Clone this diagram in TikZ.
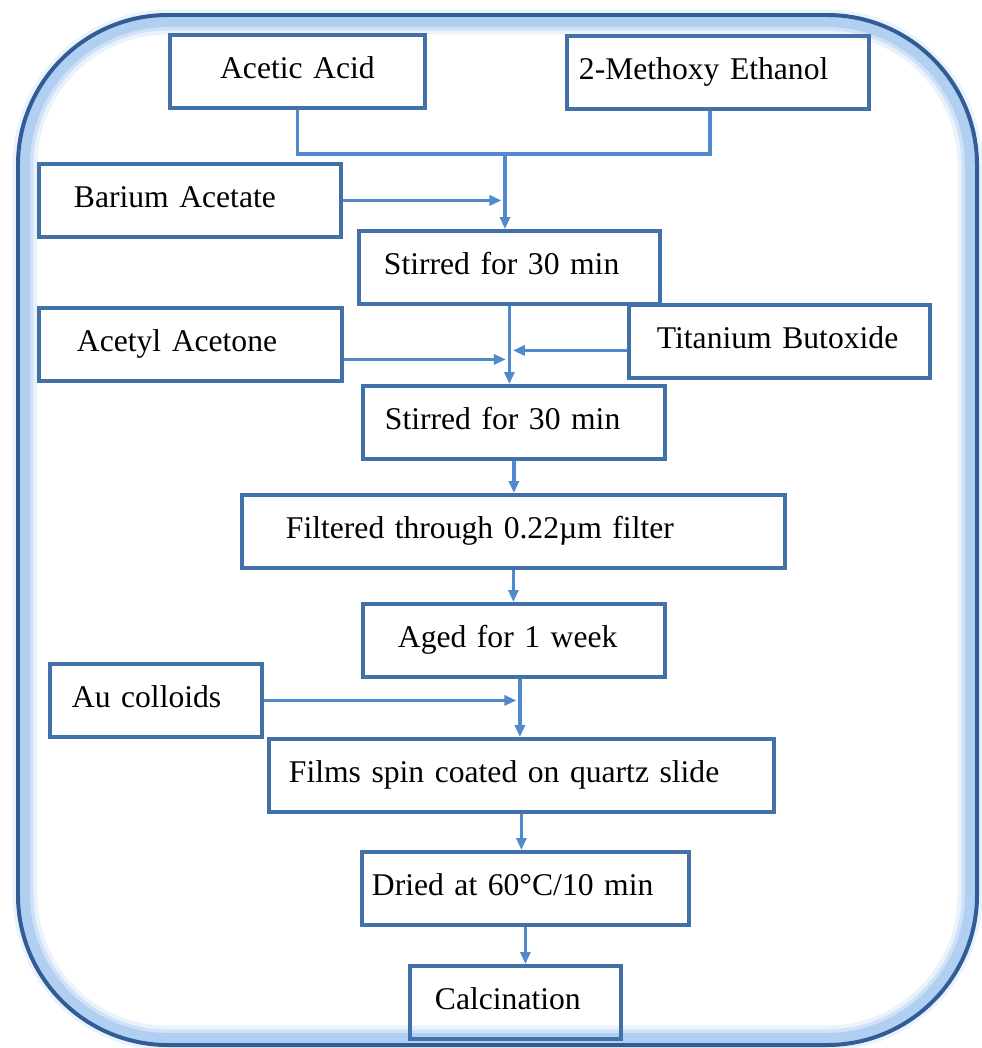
\documentclass[tikz,border=0pt]{standalone}
\usepackage{fontspec}
\setmainfont{Liberation Serif}
\usepackage{xcolor}
\usetikzlibrary{arrows.meta}
\definecolor{boxblue}{RGB}{66,112,168}
\definecolor{linkblue}{RGB}{80,137,204}
\definecolor{framedark}{RGB}{50,92,150}
\definecolor{glowblue}{RGB}{140,185,235}

\begin{document}
\begin{tikzpicture}[x=0.02cm, y=-0.02cm, >={Triangle[length=0.24cm,width=0.2cm]}]

        \tikzset{box/.style 2 args={draw=boxblue, line width=2.2pt, anchor=north west,
                 text width=#1, inner xsep=#2, inner ysep=0pt, minimum height=1.46cm,
                 align=left, font=\fontsize{18}{22}\selectfont,
                 text height=12.6pt, text depth=4pt}}
        \tikzset{link/.style={draw=linkblue, line width=2.1pt}}

        \useasboundingbox (0,0) rectangle (981,1048);

        % outer frame with glow
        \foreach \w/\o in {0.50/0.18, 0.34/0.3, 0.20/0.45}
            \draw[glowblue, opacity=\o, line width=\w cm, rounded corners=2.86cm] (25,22) rectangle (970,1038);
        \draw[framedark, line width=0.08cm, rounded corners=3cm] (18,15) rectangle (977,1045);

        \node[box={4.30cm}{0.40cm}, align=center] (acetic) at (168,33) {Acetic Acid};
        \node[box={5.56cm}{0.24cm}] (methoxy) at (565,34) {2-Methoxy Ethanol};
        \node[box={4.64cm}{0.70cm}] (barium) at (37,162) {Barium Acetate};
        \node[box={5.02cm}{0.50cm}] (stir1) at (357,229) {Stirred for 30 min};
        \node[box={4.54cm}{0.76cm}] (acetyl) at (37,306) {Acetyl Acetone};
        \node[box={4.90cm}{0.56cm}] (titanium) at (627,303) {Titanium Butoxide};
        \node[box={5.16cm}{0.44cm}] (stir2) at (361,384) {Stirred for 30 min};
        \node[box={9.10cm}{0.88cm}] (filtered) at (240,493) {Filtered through 0.22µm filter};
        \node[box={4.64cm}{0.70cm}] (aged) at (361,602) {Aged for 1 week};
        \node[box={3.36cm}{0.44cm}] (au) at (48,662) {Au colloids};
        \node[box={9.30cm}{0.40cm}] (films) at (267,737) {Films spin coated on quartz slide};
        \node[box={6.14cm}{0.20cm}] (dried) at (360,850) {Dried at 60°C/10 min};
        \node[box={3.22cm}{0.50cm}] (calc) at (408,964) {Calcination};

        \coordinate (mix) at (505,154);
        \coordinate (drop) at ([xshift=0.12cm]aged.south);

        \draw[link] (acetic.south) |- ([xshift=-0.16cm]methoxy.south |- mix) -- ([xshift=-0.16cm]methoxy.south);
        \draw[link,->] (mix) -- (mix |- stir1.north);
        \draw[link,->, shorten >=2pt] (barium.east) -- (mix |- barium.east);

        \draw[link,->] (stir1.south) -- (stir1.south |- stir2.north);
        \draw[link,->, shorten >=2pt] ([yshift=-0.30cm]acetyl.east) -- ([yshift=-0.30cm]acetyl.east -| stir1.south);
        \draw[link,->, shorten >=2pt] ([yshift=-0.18cm]titanium.west) -- ([yshift=-0.18cm]titanium.west -| stir1.south);

        \draw[link,->] (stir2.south) -- (stir2.south |- filtered.north);
        \draw[link,->] (filtered.south) -- (filtered.south |- aged.north);

        \draw[link,->] (drop) -- (drop |- films.north);
        \draw[link,->, shorten >=2pt] (au.east) -- (au.east -| drop);

        \draw[link,->] (films.south) -- (films.south |- dried.north);
        \draw[link,->] (dried.south) -- (dried.south |- calc.north);

\end{tikzpicture}
\end{document}
